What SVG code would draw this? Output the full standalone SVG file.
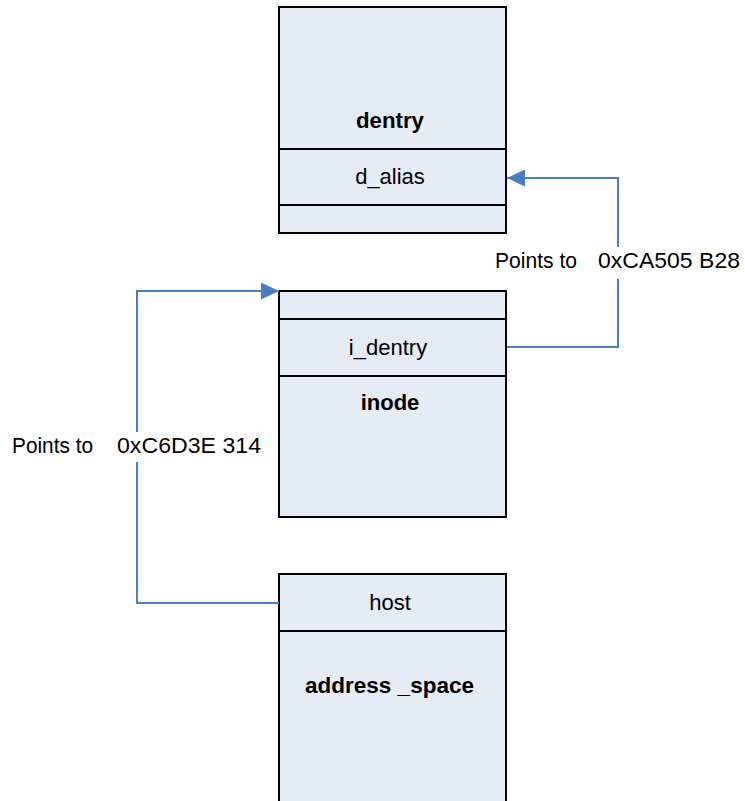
<svg xmlns="http://www.w3.org/2000/svg" width="745" height="801" viewBox="0 0 745 801">
<style>
.box{fill:#E6ECF6;stroke:#000;stroke-width:2}
.div{stroke:#000;stroke-width:2}
.t{font-family:"Liberation Sans",Arial,sans-serif;font-size:22px;fill:#000;text-anchor:middle}
.b{font-weight:bold}
.lbl{font-family:"Liberation Sans",Arial,sans-serif;font-size:22px;fill:#000}
.c{fill:none;stroke:#4A7EC4;stroke-width:2}
</style>
<defs>
<marker id="ah" markerWidth="18" markerHeight="17" refX="18" refY="8.5" orient="auto" markerUnits="userSpaceOnUse">
<path d="M0,0 L18,8.5 L0,17 Z" fill="#4A7EC4"/>
</marker>
</defs>
<rect width="745" height="801" fill="#fff"/>
<g id="dentry">
<rect class="box" x="279" y="7" width="227" height="226"/>
<line class="div" x1="279" y1="149" x2="506" y2="149"/>
<line class="div" x1="279" y1="205" x2="506" y2="205"/>
<text class="t b" x="390" y="128" textLength="68" lengthAdjust="spacingAndGlyphs">dentry</text>
<text class="t" x="390" y="184">d_alias</text>
</g>
<g id="inode">
<rect class="box" x="279" y="291" width="227" height="226"/>
<line class="div" x1="279" y1="319" x2="506" y2="319"/>
<line class="div" x1="279" y1="376" x2="506" y2="376"/>
<text class="t" x="388" y="355">i_dentry</text>
<text class="t b" x="390" y="410">inode</text>
</g>
<g id="address_space">
<rect class="box" x="279" y="574" width="227" height="240"/>
<line class="div" x1="279" y1="631" x2="506" y2="631"/>
<text class="t" x="390" y="610">host</text>
<text class="t b" x="389.5" y="693" textLength="169" lengthAdjust="spacingAndGlyphs">address _space</text>
</g>
<g id="connectors">
<path class="c" d="M507,347 H618 V279"/>
<path class="c" d="M618,247 V178 H507" marker-end="url(#ah)"/>
<path class="c" d="M279,603 H137 V462"/>
<path class="c" d="M137,432 V291 H279" marker-end="url(#ah)"/>
</g>
<g id="labels">
<text class="lbl" x="495" y="268" textLength="82" lengthAdjust="spacingAndGlyphs">Points to</text>
<text class="lbl" x="598" y="268" textLength="142" lengthAdjust="spacingAndGlyphs">0xCA505 B28</text>
<text class="lbl" x="12" y="453" textLength="81" lengthAdjust="spacingAndGlyphs">Points to</text>
<text class="lbl" x="117" y="453" textLength="144" lengthAdjust="spacingAndGlyphs">0xC6D3E 314</text>
</g>
</svg>
